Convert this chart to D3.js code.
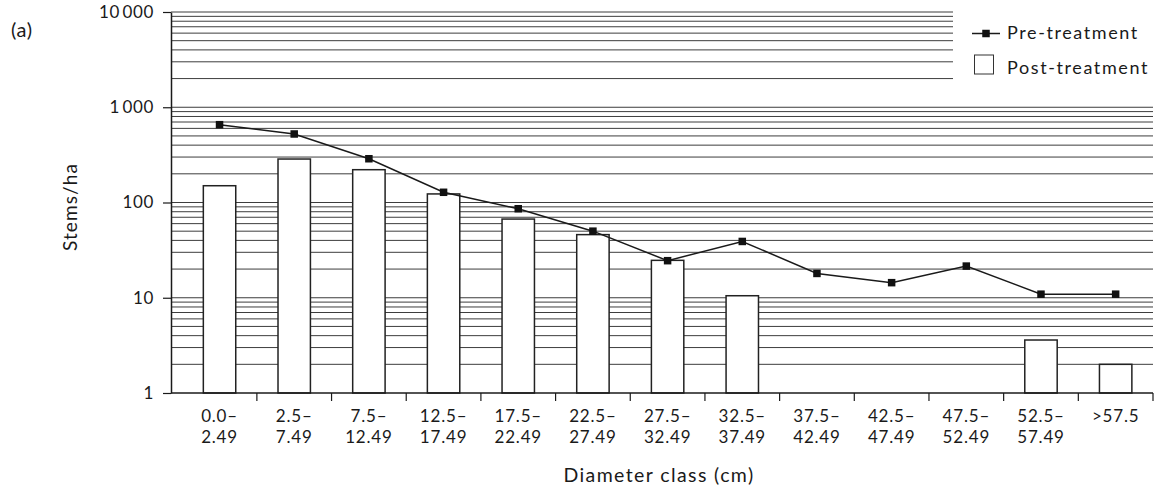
<!DOCTYPE html>
<html>
<head>
<meta charset="utf-8">
<script src="https://cdn.jsdelivr.net/npm/d3@7"></script>
<style>
  html, body { margin: 0; padding: 0; background: #fff; }
  svg { display: block; font-family: Lato, "Open Sans", sans-serif; }
  text { fill: #1a1a1a; }
</style>
</head>
<body>
<svg id="chart" width="1159" height="493"></svg>
<script>
// Diameter classes (cm), two-line labels
const classLine1 = ["0.0–", "2.5–", "7.5–", "12.5–", "17.5–", "22.5–", "27.5–", "32.5–", "37.5–", "42.5–", "47.5–", "52.5–", ">57.5"];
const classLine2 = ["2.49", "7.49", "12.49", "17.49", "22.49", "27.49", "32.49", "37.49", "42.49", "47.49", "52.49", "57.49", ""];

// Stems per hectare
const preTreatment  = [656, 524, 288, 128, 86, 50, 24.5, 39, 18, 14.4, 21.5, 10.9, 10.9];
const postTreatment = [150, 286, 221, 123, 67, 46, 24.7, 10.5, 0, 0, 0, 3.6, 2.0];

// Y axis labels
const yTickValues = [1, 10, 100, 1000, 10000];
const yTickLabels = ["1", "10", "100", "1\u2009000", "10\u2009000"];

const seriesNames = ["Pre-treatment", "Post-treatment"];

const FONT = 'Lato, "Open Sans", sans-serif';
const svg = d3.select("#chart");
const axisX = 171, plotTop = 12, plotBottom = 393, plotRight = 1153;
const bandLeft = 182.2;

const categories = classLine1.map((d, i) => i);

const y = d3.scaleLog().domain([1, 10000]).range([plotBottom, plotTop]);
const x = d3.scaleBand().domain(categories)
  .range([bandLeft, plotRight])
  .paddingInner(0.566).paddingOuter(0.283);
const step = x.step();
const cx = i => x(i) + x.bandwidth() / 2;

// Horizontal grid at every 1..9 multiple of each decade
const gridValues = [];
[1, 10, 100, 1000].forEach(d => { for (let k = 1; k <= 9; k++) gridValues.push(k * d); });
gridValues.push(10000);
svg.append("g").selectAll("line")
  .data(gridValues.filter(v => v > 1))
  .join("line")
  .attr("x1", axisX).attr("x2", plotRight)
  .attr("y1", d => y(d)).attr("y2", d => y(d))
  .attr("stroke", "#3d3d3d").attr("stroke-width", 1);

// Post-treatment bars
svg.append("g").selectAll("rect")
  .data(postTreatment.map((v, i) => ({ v, i })).filter(d => d.v > 0))
  .join("rect")
  .attr("x", d => x(d.i))
  .attr("width", x.bandwidth())
  .attr("y", d => y(d.v))
  .attr("height", d => y(1) - y(d.v))
  .attr("fill", "#fff").attr("stroke", "#222").attr("stroke-width", 1.5);

// Pre-treatment line with square markers
const line = d3.line().x((d, i) => cx(i)).y(d => y(d));
svg.append("path").datum(preTreatment)
  .attr("d", line)
  .attr("fill", "none").attr("stroke", "#1a1a1a").attr("stroke-width", 1.5);
const m = 7.5;
svg.append("g").selectAll("rect")
  .data(preTreatment)
  .join("rect")
  .attr("x", (d, i) => cx(i) - m / 2).attr("y", d => y(d) - m / 2)
  .attr("width", m).attr("height", m)
  .attr("fill", "#111");

// Y axis
const yAxis = d3.axisLeft(y)
  .tickValues(yTickValues)
  .tickFormat((d, i) => yTickLabels[i])
  .tickSize(8).tickPadding(9).tickSizeOuter(0);
const gy = svg.append("g").attr("transform", `translate(${axisX},0)`).call(yAxis);
gy.select(".domain").attr("stroke", "#1a1a1a").attr("stroke-width", 1.5);
gy.selectAll(".tick line").attr("stroke", "#1a1a1a").attr("stroke-width", 1.2);
gy.selectAll(".tick text").attr("font-size", 17).attr("letter-spacing", 0.6)
  .attr("fill", "#1a1a1a").attr("font-family", FONT);

// X axis: baseline, class boundary ticks, two-line labels
const xAxis = d3.axisBottom(x).tickSize(0).tickSizeOuter(0).tickPadding(0).tickFormat(() => "");
const gx = svg.append("g").attr("transform", `translate(0,${plotBottom})`).call(xAxis);
gx.select(".domain").remove();
gx.append("line").attr("x1", axisX).attr("x2", plotRight).attr("y1", 0).attr("y2", 0)
  .attr("stroke", "#1a1a1a").attr("stroke-width", 1.5);
gx.selectAll(".boundary").data(categories)
  .join("line").attr("class", "boundary")
  .attr("x1", d => bandLeft + (d + 1) * step).attr("x2", d => bandLeft + (d + 1) * step)
  .attr("y1", 0).attr("y2", 8)
  .attr("stroke", "#1a1a1a").attr("stroke-width", 1.2);
gx.selectAll(".tick").each(function (d) {
  const tick = d3.select(this);
  tick.select("text").remove();
  [classLine1[d], classLine2[d]].forEach((label, row) => {
    if (!label) return;
    tick.append("text")
      .attr("x", 0).attr("y", 28.5 + row * 21)
      .attr("text-anchor", "middle")
      .attr("font-size", 17).attr("letter-spacing", 0.8)
      .attr("font-family", FONT).attr("fill", "#1a1a1a")
      .text(label);
  });
});

// Legend panel (white background over the grid)
svg.append("rect").attr("x", 953).attr("y", 0).attr("width", 206).attr("height", 95).attr("fill", "#fff");
const lg = svg.append("g").attr("font-size", 18).attr("letter-spacing", 1.6);
lg.append("line").attr("x1", 972).attr("x2", 1000).attr("y1", 33.5).attr("y2", 33.5)
  .attr("stroke", "#1a1a1a").attr("stroke-width", 1.5);
lg.append("rect").attr("x", 986 - m / 2).attr("y", 33.5 - m / 2).attr("width", m).attr("height", m).attr("fill", "#111");
lg.append("text").attr("x", 1007).attr("y", 39).text(seriesNames[0]);
lg.append("rect").attr("x", 974.5).attr("y", 55).attr("width", 19).attr("height", 19)
  .attr("fill", "#fff").attr("stroke", "#333").attr("stroke-width", 1);
lg.append("text").attr("x", 1007).attr("y", 73.5).text(seriesNames[1]);

// Titles
svg.append("text").attr("x", 11).attr("y", 37).attr("font-size", 20).attr("letter-spacing", 0.6).text("(a)");
svg.append("text").attr("transform", "translate(77,207) rotate(-90)")
  .attr("text-anchor", "middle").attr("font-size", 19).attr("letter-spacing", 1.1).text("Stems/ha");
svg.append("text").attr("x", 659).attr("y", 482)
  .attr("text-anchor", "middle").attr("font-size", 19.5).attr("letter-spacing", 1.4).text("Diameter class (cm)");
</script>
</body>
</html>
